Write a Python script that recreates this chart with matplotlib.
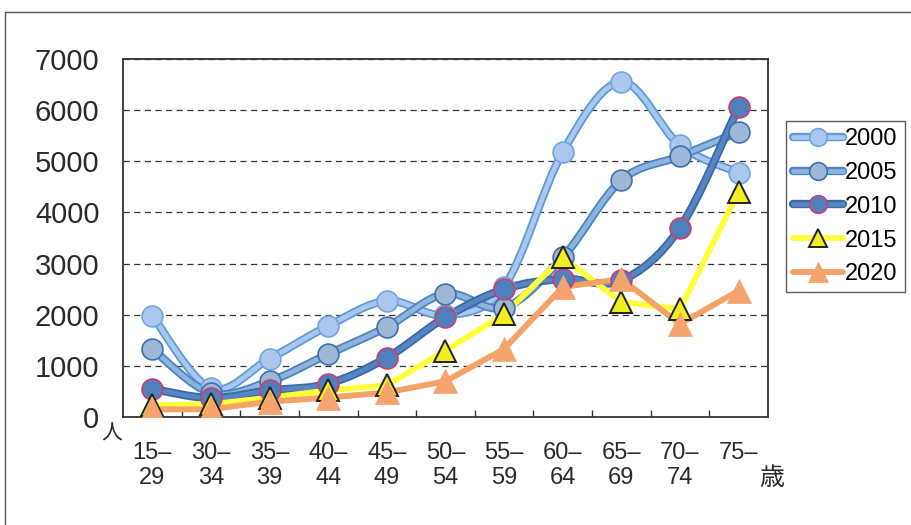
import matplotlib
matplotlib.use("Agg")
import matplotlib.pyplot as plt
import matplotlib.patheffects as pe
from matplotlib.path import Path
from matplotlib.patches import PathPatch
from matplotlib.lines import Line2D
from matplotlib.legend_handler import HandlerTuple
import numpy as np

plt.rcParams['font.family'] = ['Liberation Sans', 'Noto Sans CJK JP', 'DejaVu Sans']

# Age groups (x categories)
age_top = ["15–", "30–", "35–", "40–", "45–", "50–", "55–", "60–", "65–", "70–", "75–"]
age_bottom = ["29", "34", "39", "44", "49", "54", "59", "64", "69", "74", ""]

# Values (people)
v2000 = [1980, 560, 1140, 1780, 2270, 1990, 2550, 5180, 6550, 5310, 4780]
v2005 = [1330, 470, 700, 1230, 1760, 2410, 2140, 3120, 4630, 5100, 5570]
v2010 = [550, 370, 520, 650, 1160, 1950, 2500, 2700, 2670, 3700, 6060]
v2015 = [230, 250, 380, 520, 620, 1300, 2010, 3120, 2250, 2110, 4400]
v2020 = [150, 150, 300, 380, 480, 700, 1330, 2540, 2700, 1820, 2470]

years = ["2000", "2005", "2010", "2015", "2020"]

# style per series: line face, line edge, marker, marker face, marker edge, smoothed
styles = {
    "2000": dict(lc="#a9c8f0", le="#5d9ad6", m="o", mf="#abc7ee", me="#6ea6de", ms=15, mew=1.2, smooth=True),
    "2005": dict(lc="#8fb4dc", le="#4a84c2", m="o", mf="#9db8d6", me="#3f70ae", ms=15, mew=1.2, smooth=True),
    "2010": dict(lc="#5585c2", le="#3b69a6", m="o", mf="#4f7fbd", me="#cc3f6c", ms=15, mew=1.2, smooth=True),
    "2015": dict(lc="#ffff3a", le=None, m="^", mf="#f2ee22", me="#222222", ms=16, mew=1.4, smooth=False),
    "2020": dict(lc="#f5a266", le=None, m="^", mf="#f4a46c", me="#f4a46c", ms=17, mew=0.5, smooth=False),
}


def smooth_path(xs, ys):
    # Catmull-Rom style cubic Bezier through the points (like Excel's smoothed line)
    pts = np.column_stack([xs, ys]).astype(float)
    n = len(pts)
    verts = [pts[0]]
    codes = [Path.MOVETO]
    for i in range(n - 1):
        p0 = pts[i - 1] if i > 0 else pts[i]
        p1 = pts[i]
        p2 = pts[i + 1]
        p3 = pts[i + 2] if i + 2 < n else pts[i + 1]
        c1 = p1 + (p2 - p0) / 6.0
        c2 = p2 - (p3 - p1) / 6.0
        verts += [c1, c2, p2]
        codes += [Path.CURVE4] * 3
    return Path(verts, codes)


fig = plt.figure(figsize=(9.12, 5.25), dpi=100)
ax = fig.add_axes([0.1349, 0.2057, 0.842 - 0.1349, 0.8876 - 0.2057])

x = np.arange(len(age_top))
series = [v2000, v2005, v2010, v2015, v2020]

handles = []
for yr, vals in zip(years, series):
    st = styles[yr]
    if st["le"]:
        effects = [pe.Stroke(linewidth=6.0, foreground=st["le"]), pe.Normal()]
        lw = 3.4
    else:
        effects = None
        lw = 4.2
    if st["smooth"]:
        path = smooth_path(x, vals)
    else:
        path = Path(np.column_stack([x, vals]).astype(float))
    patch = PathPatch(path, facecolor="none", edgecolor=st["lc"],
                      lw=lw, capstyle="round", joinstyle="round", zorder=3)
    if effects:
        patch.set_path_effects(effects)
    ax.add_patch(patch)
    ax.plot(x, vals, linestyle="none", marker=st["m"], markersize=st["ms"],
            markerfacecolor=st["mf"], markeredgecolor=st["me"],
            markeredgewidth=st["mew"], zorder=4)
    # legend handle: line with the same outline plus a smaller marker on top
    hl = Line2D([0], [0], color=st["lc"], lw=lw, solid_capstyle="round")
    if effects:
        hl.set_path_effects(effects)
    hm = Line2D([0], [0], linestyle="none", marker=st["m"],
                markersize=st["ms"] * 0.85, markerfacecolor=st["mf"],
                markeredgecolor=st["me"], markeredgewidth=st["mew"])
    handles.append((hl, hm))

ax.set_xlim(-0.5, len(age_top) - 0.5)
ax.set_ylim(0, 7000)
ax.set_yticks(np.arange(0, 7001, 1000))
ax.set_yticklabels([str(v) for v in range(0, 7001, 1000)], fontsize=21, color="#2a2a2a")
ax.tick_params(axis="y", length=0, pad=17)

ax.set_xticks(x)
ax.set_xticklabels([a + "\n" + b for a, b in zip(age_top, age_bottom)],
                   fontsize=17, color="#2a2a2a", linespacing=1.15)
ax.tick_params(axis="x", which="major", length=0, pad=18)
ax.set_xticks(x[:-1] + 0.5, minor=True)
ax.tick_params(axis="x", which="minor", direction="in", length=5, width=1, color="#333333")

ax.yaxis.grid(True, linestyle=(0, (5, 3.5)), color="#333333", lw=0.9)
ax.set_axisbelow(True)
for s in ax.spines.values():
    s.set_color("#333333")
    s.set_linewidth(1.3)

# unit labels
ax.text(-0.69, -340, "人", fontsize=15, color="#2a2a2a", ha="center", va="center",
        transform=ax.transData, clip_on=False)
fig.text(772 / 912, 1 - 478 / 525, "歳", fontsize=18, color="#2a2a2a",
         ha="center", va="center")

leg = fig.legend(handles, years, loc="upper left",
                 handler_map={tuple: HandlerTuple(ndivide=1)},
                 bbox_to_anchor=(786 / 912, 1 - 121 / 525), fontsize=17,
                 frameon=True, fancybox=False, handlelength=2.1,
                 handletextpad=0.1, labelspacing=0.5, borderpad=0.3,
                 borderaxespad=0)
leg.get_frame().set_edgecolor("#333333")
leg.get_frame().set_linewidth(1.0)

# outer chart border
fig.add_artist(Line2D([5 / 912, 5 / 912], [0, 1 - 12 / 525], color="#555555", lw=1.0))
fig.add_artist(Line2D([5 / 912, 1], [1 - 12 / 525, 1 - 12 / 525], color="#555555", lw=1.0))

fig.savefig("out.png", dpi=100)
